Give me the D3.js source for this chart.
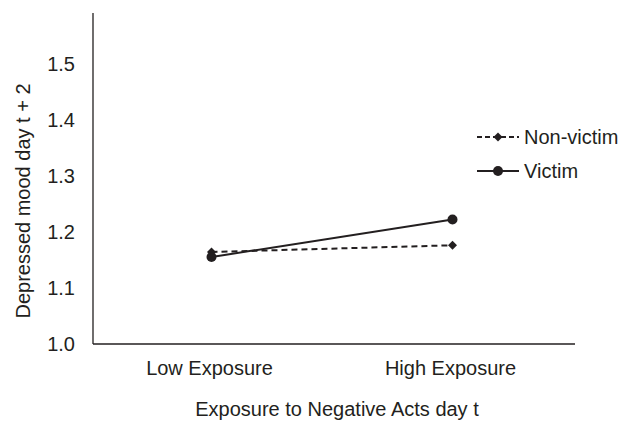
<!DOCTYPE html>
<html><head><meta charset="utf-8">
<script src="https://cdn.jsdelivr.net/npm/d3@7"></script>
<style>body{margin:0;background:#fff}svg{font-family:"Liberation Sans",Arial,sans-serif}</style>
</head><body>
<svg id="c" width="631" height="423"></svg>
<script>
const categories = ["Low Exposure", "High Exposure"];
const seriesNames = ["Non-victim", "Victim"];
const nonVictim = [1.164, 1.176];
const victim = [1.155, 1.222];
const yTicks = [1.0, 1.1, 1.2, 1.3, 1.4, 1.5];

(function () {
const ink = "#231f20";
const fs = 20;
const svg = d3.select("#c");
const mLeft = 93, mRight = 575, mBottom = 344, mTop = 13;
const x = d3.scaleBand().domain(categories).range([mLeft, mRight]);
const y = d3.scaleLinear().domain([1.0, 1.5]).range([mBottom, 63.5]);

svg.append("line").attr("x1", mLeft).attr("x2", mLeft).attr("y1", mTop).attr("y2", mBottom).attr("stroke", ink).attr("stroke-width", 1.3);
svg.append("line").attr("x1", mLeft).attr("x2", mRight).attr("y1", mBottom).attr("y2", mBottom).attr("stroke", ink).attr("stroke-width", 1.3);

svg.selectAll(".yt").data(yTicks).enter().append("text")
  .attr("x", 75).attr("y", d => y(d)).attr("dy", "0.36em")
  .attr("text-anchor", "end").attr("font-size", fs).attr("fill", ink)
  .text(d => d.toFixed(1));

svg.selectAll(".xt").data(categories).enter().append("text")
  .attr("x", d => x(d) + x.bandwidth() / 2 - 4).attr("y", 375)
  .attr("text-anchor", "middle").attr("font-size", fs).attr("fill", ink)
  .text(d => d);

svg.append("text").attr("x", 337).attr("y", 416).attr("text-anchor", "middle")
  .attr("font-size", fs).attr("fill", ink).text("Exposure to Negative Acts day t");
svg.append("text").attr("transform", "translate(30,201) rotate(-90)").attr("text-anchor", "middle")
  .attr("font-size", fs).attr("fill", ink).text("Depressed mood day t + 2");

const cx = c => x(c) + x.bandwidth() / 2 - 2;
const line = d3.line().x((d, i) => cx(categories[i])).y(d => y(d));
const diamond = d3.symbol().type(d3.symbolSquare).size(40);

svg.append("path").attr("d", line(nonVictim)).attr("fill", "none").attr("stroke", ink)
  .attr("stroke-width", 2).attr("stroke-dasharray", "6,4");
svg.selectAll(".nv").data(nonVictim).enter().append("path")
  .attr("d", diamond).attr("transform", (d, i) => `translate(${cx(categories[i])},${y(d)}) rotate(45)`).attr("fill", ink);

svg.append("path").attr("d", line(victim)).attr("fill", "none").attr("stroke", ink).attr("stroke-width", 2);
svg.selectAll(".v").data(victim).enter().append("circle")
  .attr("cx", (d, i) => cx(categories[i])).attr("cy", d => y(d)).attr("r", 5).attr("fill", ink);

const legY = [137, 171];
seriesNames.forEach((s, i) => {
  const g = svg.append("g");
  g.append("line").attr("x1", 477).attr("x2", 519).attr("y1", legY[i]).attr("y2", legY[i])
    .attr("stroke", ink).attr("stroke-width", 2).attr("stroke-dasharray", i === 0 ? "5,3" : null);
  if (i === 0) g.append("path").attr("d", diamond).attr("transform", `translate(498,${legY[i]}) rotate(45)`).attr("fill", ink);
  else g.append("circle").attr("cx", 498).attr("cy", legY[i]).attr("r", 5).attr("fill", ink);
  g.append("text").attr("x", 524).attr("y", legY[i]).attr("dy", "0.36em").attr("font-size", fs).attr("fill", ink).text(s);
});
})();
</script>
</body></html>
